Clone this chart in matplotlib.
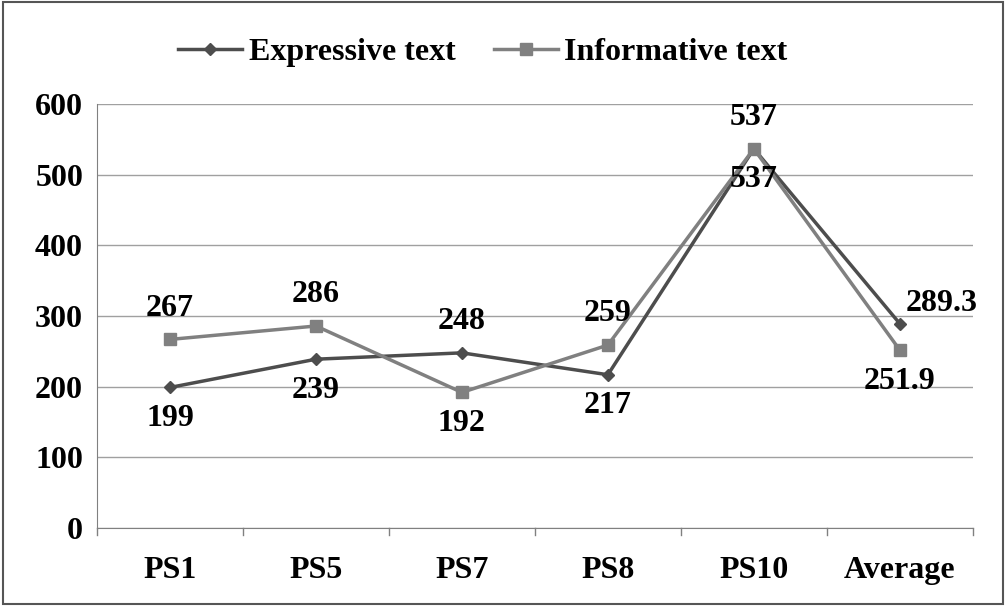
import matplotlib
matplotlib.use("Agg")
import matplotlib.pyplot as plt
from matplotlib.patches import Rectangle

categories = ["PS1", "PS5", "PS7", "PS8", "PS10", "Average"]
expressive = [199, 239, 248, 217, 537, 289.3]
informative = [267, 286, 192, 259, 537, 251.9]
exp_labels = ["199", "239", "248", "217", "537", "289.3"]
inf_labels = ["267", "286", "192", "259", "537", "251.9"]
exp_pos = ["below", "below", "above", "below", "below", "aboveright"]
inf_pos = ["above", "above", "below", "above", "above", "below"]

plt.rcParams['font.family'] = ['Liberation Serif', 'DejaVu Serif']
plt.rcParams['font.weight'] = 'bold'
FS = 23

fig = plt.figure(figsize=(10.06, 6.06), dpi=100)
fig.patches.append(Rectangle((0.003, 0.003), 0.994, 0.994, transform=fig.transFigure,
                             fill=False, edgecolor='#555555', linewidth=1.5))
ax = fig.add_axes([0.0964, 0.1287, 0.8706, 0.6993])
x = list(range(len(categories)))
ce, ci = '#4d4d4d', '#808080'
ax.plot(x, expressive, color=ce, marker='D', markersize=6, linewidth=2.5, label='Expressive text')
ax.plot(x, informative, color=ci, marker='s', markersize=8, linewidth=2.5, label='Informative text')

def annotate(vals, labels, pos):
    for xi, v, t, p in zip(x, vals, labels, pos):
        if p == "above":
            ax.annotate(t, (xi, v), xytext=(0, 12), textcoords='offset points', ha='center', va='bottom', fontsize=FS, fontweight='bold')
        elif p == "below":
            ax.annotate(t, (xi, v), xytext=(0, -12), textcoords='offset points', ha='center', va='top', fontsize=FS, fontweight='bold')
        else:
            ax.annotate(t, (xi, v), xytext=(30, 4), textcoords='offset points', ha='center', va='bottom', fontsize=FS, fontweight='bold')

annotate(expressive, exp_labels, exp_pos)
annotate(informative, inf_labels, inf_pos)

ax.set_xlim(-0.5, len(categories) - 0.5)
ax.set_ylim(0, 600)
ax.set_yticks(range(0, 601, 100))
ax.set_xticks(x)
ax.set_xticklabels(categories)
ax.tick_params(axis='y', labelsize=FS, length=0, pad=10)
ax.tick_params(axis='x', labelsize=FS, length=0, pad=20)
for lab in ax.get_xticklabels() + ax.get_yticklabels():
    lab.set_fontweight('bold')
ax.grid(axis='y', color='#a0a0a0', linewidth=1)
ax.set_axisbelow(True)
for s in ['top', 'right']:
    ax.spines[s].set_visible(False)
ax.spines['left'].set_color('#808080')
ax.spines['bottom'].set_color('#808080')
for b in [i - 0.5 for i in range(len(categories) + 1)]:
    ax.plot([b, b], [0, -10], color='#808080', linewidth=1, clip_on=False)

leg = fig.legend(loc='upper center', bbox_to_anchor=(0.48, 0.985), ncol=2, frameon=False,
                 prop={'size': FS, 'weight': 'bold'}, handlelength=2, handletextpad=0.2, columnspacing=1.2)
fig.savefig('out.png', dpi=100)
